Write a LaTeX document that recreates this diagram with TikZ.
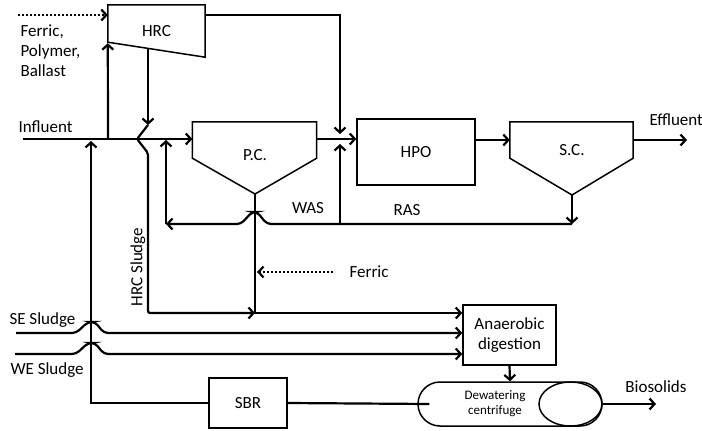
\documentclass[tikz,border=0pt]{standalone}
\usepackage{fontspec}
\setmainfont{Carlito}
\usetikzlibrary{arrows.meta, calc}

\begin{document}
\begin{tikzpicture}[x=1pt, y=-1pt, every node/.style={font=\fontsize{17}{20}\selectfont},
    unit/.style={draw, line width=1.5pt, inner sep=0pt, align=center},
    tank/.style={inner sep=0pt},
    ln/.style={line width=2.2pt},
    ar/.style={ln, -{Straight Barb[length=5pt, width=11pt]}},
    dotar/.style={ar, dash pattern=on 2pt off 2pt},
    outl/.style={line width=1.5pt, line join=miter}]
  \useasboundingbox (0,0) rectangle (702,431);
  % process units
  \node[tank, minimum width=97pt, minimum height=52pt] (hrc) at (156.5,31) {HRC};
  \node[tank, minimum width=124pt, minimum height=36pt] (pc) at (254.5,140) {};
  \node[unit, minimum width=118pt, minimum height=66pt] (hpo) at (416,152) {HPO};
  \node[tank, minimum width=123pt, minimum height=36pt] (sc) at (571.5,140) {};
  \node[unit, minimum width=93pt, minimum height=60pt] (ad) at (509.5,335) {Anaerobic\\digestion};
  \node[unit, minimum width=184pt, minimum height=44pt, rounded corners=22pt] (dw) at (510,404) {};
  \node[unit, minimum width=78pt, minimum height=50pt] (sbr) at (248,403) {SBR};
  \coordinate (pca) at (255,194);
  \coordinate (sca) at (572,195);
  \draw[outl] (hrc.north west) -- (hrc.north east) -- (hrc.south east)
    -- ($(hrc.south west)+(0,-15)$) -- cycle;
  \draw[outl] (pc.south west) -- (pc.north west) -- (pc.north east) -- (pc.south east) -- (pca) -- cycle;
  \draw[outl] (sc.south west) -- (sc.north west) -- (sc.north east) -- (sc.south east) -- (sca) -- cycle;
  \draw[outl] (570.5,404) ellipse [x radius=31.5, y radius=22];
  \node (pcl) at (255,155) {P.C.};
  \node (scl) at (572,150) {S.C.};
  \node[font=\fontsize{13}{15}\selectfont, align=center] (dwl) at (495,404) {Dewatering\\centrifuge};
  % labels
  \node[anchor=west, align=left] (chem) at (17,51) {Ferric,\\Polymer,\\Ballast};
  \node[anchor=west] (infl) at (15,127) {Influent};
  \node[anchor=west] (effl) at (646,120) {Effluent};
  \node (wasl) at (308,208) {WAS};
  \node (rasl) at (407,210) {RAS};
  \node[rotate=90] (hrcsl) at (138,267) {HRC Sludge};
  \node[anchor=west] (fel) at (346,272) {Ferric};
  \node[anchor=west] (sel) at (6,320) {SE Sludge};
  \node[anchor=west] (wel) at (7,370) {WE Sludge};
  \node (biol) at (656,387) {Biosolids};
  % connectors
  \coordinate (chemin) at (18,15);
  \coordinate (inf) at (23,139);
  \coordinate (j) at (340,139);
  \coordinate (ras) at (340,224);
  \coordinate (was) at (166,224);
  \coordinate (pcb) at (255,313);
  \coordinate (hrcu) at (148,48);
  \coordinate (fe) at (333,272);
  \coordinate (se) at (16,333);
  \coordinate (we) at (15,354);
  \coordinate (sbrup) at (91,141);
  \coordinate (eff) at (687,140);
  \coordinate (bio) at (656,404);
  \draw[dotar] (chemin) -- (chemin -| hrc.west);
  \draw[ar] ($(hrc.north east)+(0,10)$) -| ($(j)+(0,-5)$);
  \draw[ar] (inf) -- (pc.west |- inf);
  \draw[ar] (108,139) -- ($(hrc.south west)+(0,-14)$);
  \draw[ar] (hrcu) -- (148,125);
  \draw[ar, rounded corners=2pt] (148,125) -- (137,139) -- (148,153) |- (pcb);
  \draw[ar] (pca) |- (ad.west |- pcb);
  \draw[dotar, shorten >=2pt] (fe) -- (fe -| pca);
  \draw[ar] (pc.east |- inf) -- (hpo.west |- inf);
  \draw[ar] (ras) -- ($(j)+(0,5)$);
  \draw[ar] (hpo.east |- sc.west) -- (sc.west);
  \draw[ar] (sc.east) -- (eff);
  \draw[ar] (sca) -- (sca |- ras);
  \draw[ar, rounded corners=4pt] (sca |- ras) -- (267,224) -- (257,212) -- (252,212) -- (241,224) -- (was);
  \draw[ar, shorten >=1pt] (was) -- (was |- inf);
  \draw[ar, rounded corners=4pt] (se) -- (76,333) -- (88,322) -- (95,322) -- (104,333) -- (ad.west |- se);
  \draw[ar, rounded corners=4pt] (we) -- (76,354) -- (88,343) -- (95,343) -- (104,354) -- (ad.west |- we);
  \draw[ar] (ad.south) -- (dw.north);
  \draw[ln] ($(dw.west)+(12,0)$) -- (sbr.east);
  \draw[ar] (sbr.west) -| (sbrup);
  \draw[ar] (dw.east) -- (bio);
\end{tikzpicture}
\end{document}
